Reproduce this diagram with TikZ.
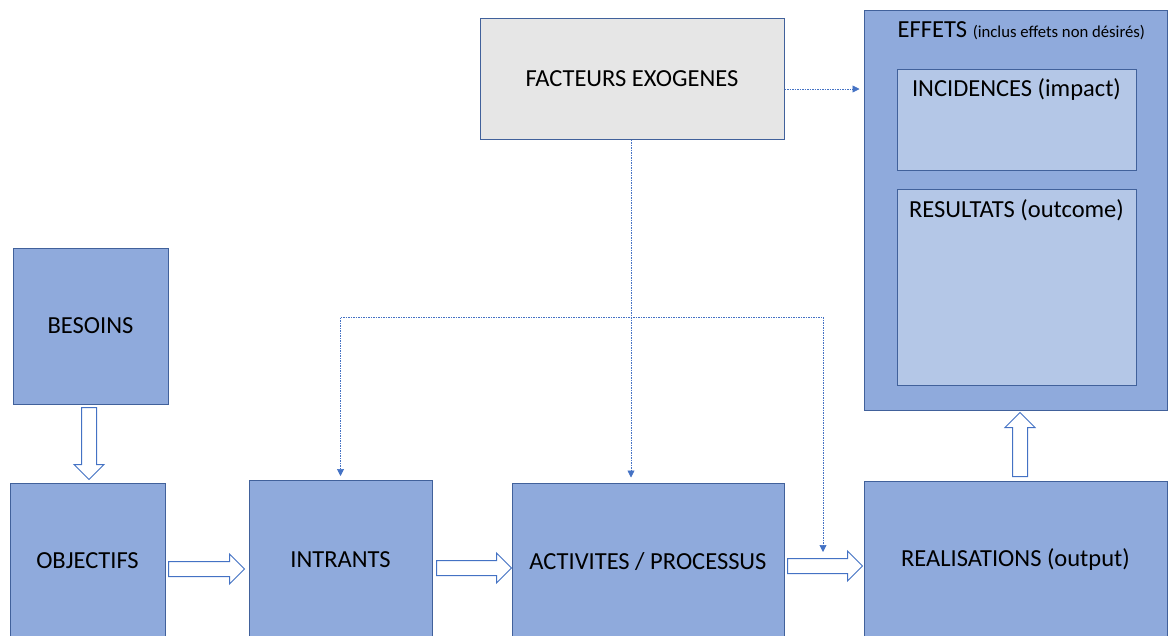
\documentclass[tikz,border=0pt]{standalone}
\usepackage{fontspec}
\setmainfont{Carlito}
\usetikzlibrary{arrows.meta,calc}

\definecolor{boxblue}{HTML}{8FAADC}
\definecolor{paleblue}{HTML}{B4C7E7}
\definecolor{edgeblue}{HTML}{41619B}
\definecolor{linkblue}{HTML}{4472C4}
\definecolor{lightgrey}{HTML}{E6E6E6}

\tikzset{
  box/.style={draw=edgeblue,fill=boxblue,line width=1pt,inner sep=0pt,
    font=\fontsize{24.5}{28}\selectfont},
  subbox/.style={box,fill=paleblue},
  dots/.style={draw=linkblue,line width=0.7pt,dash pattern=on 1.5pt off 1pt,
    -{Triangle[length=7pt,width=7pt]}},
  hollow/.style={draw=linkblue,fill=white,line width=1pt,
    to path={let \p1=(\tikztostart),\p2=(\tikztotarget),
      \n1={atan2(\y2-\y1,\x2-\x1)},\n2={veclen(\x2-\x1,\y2-\y1)} in
      {[shift={(\p1)},rotate=\n1] (0,-7.5) -- (\n2-15,-7.5) -- (\n2-15,-15)
        -- (\n2,0) -- (\n2-15,15) -- (\n2-15,7.5) -- (0,7.5) -- cycle}}},
}

\begin{document}
\begin{tikzpicture}[x=1pt,y=-1pt]

\useasboundingbox (0,0) rectangle (1168,635);
\clip (0,0) rectangle (1168,635);

\node (facteurs) [box,fill=lightgrey,minimum width=304pt,minimum height=121pt]
  at (632,78.5) {FACTEURS EXOGENES};
\node (effets) [box,minimum width=303pt,minimum height=400pt,
  label={[anchor=north west,inner sep=0pt,xshift=34pt,yshift=-12pt,
    font=\fontsize{24.5}{28}\selectfont]north west:{EFFETS
    {\fontsize{16.7}{19}\selectfont(inclus effets non désirés)}}}]
  at (1015.5,210) {};
\node (incidences) [subbox,minimum width=239pt,minimum height=101pt,
  label={[anchor=north,inner sep=0pt,yshift=-10pt,
    font=\fontsize{24.5}{28}\selectfont]north:INCIDENCES (impact)}]
  at (1016.5,119.5) {};
\node (resultats) [subbox,minimum width=239pt,minimum height=196pt,
  label={[anchor=north,inner sep=0pt,yshift=-11pt,
    font=\fontsize{24.5}{28}\selectfont]north:RESULTATS (outcome)}]
  at (1016.5,287) {};

\node (besoins) [box,minimum width=155pt,minimum height=156pt] at (90.5,326) {BESOINS};
\node (objectifs) [box,minimum width=155pt,minimum height=156pt] at (87.5,561) {OBJECTIFS};
\node (intrants) [box,minimum width=183pt,minimum height=159pt] at (340.5,560) {INTRANTS};
\node (activites) [box,minimum width=272pt,minimum height=157pt] at (648,561.5) {ACTIVITES / PROCESSUS};
\node (realisations) [box,minimum width=303pt,minimum height=158pt] at (1015.5,560) {REALISATIONS (output)};

\coordinate (bend) at (823,317);
\coordinate (drop) at (823,552);

\draw [hollow] ([shift={(-1.5pt,-3pt)}]besoins.south) to ([shift={(-1.5pt,3pt)}]besoins.south |- objectifs.north);
\draw [hollow] ([shift={(3pt,-8pt)}]objectifs.east) to ([shift={(-4pt,-8pt)}]objectifs.east -| intrants.west);
\draw [hollow] ([shift={(4pt,-8pt)}]intrants.east) to ([shift={(0pt,-8pt)}]intrants.east -| activites.west);
\draw [hollow] ([shift={(3pt,-4.5pt)}]activites.east) to ([shift={(-1pt,-4.5pt)}]activites.east -| realisations.west);
\draw [hollow] ([shift={(4.5pt,4pt)}]realisations.north) to ([shift={(4.5pt,-2pt)}]realisations.north |- effets.south);

\draw [dots] ([yshift=-10.5pt]facteurs.east) -- ([shift={(-4pt,-10.5pt)}]facteurs.east -| effets.west);
\draw [dots] ([xshift=-1pt]facteurs.south) -- ([shift={(-1pt,5pt)}]facteurs.south |- activites.north);
\draw [dots,{Triangle[length=7pt,width=7pt]}-{Triangle[length=7pt,width=7pt]}]
  ([yshift=4pt]intrants.north) |- (bend) -- (drop);

\end{tikzpicture}
\end{document}
